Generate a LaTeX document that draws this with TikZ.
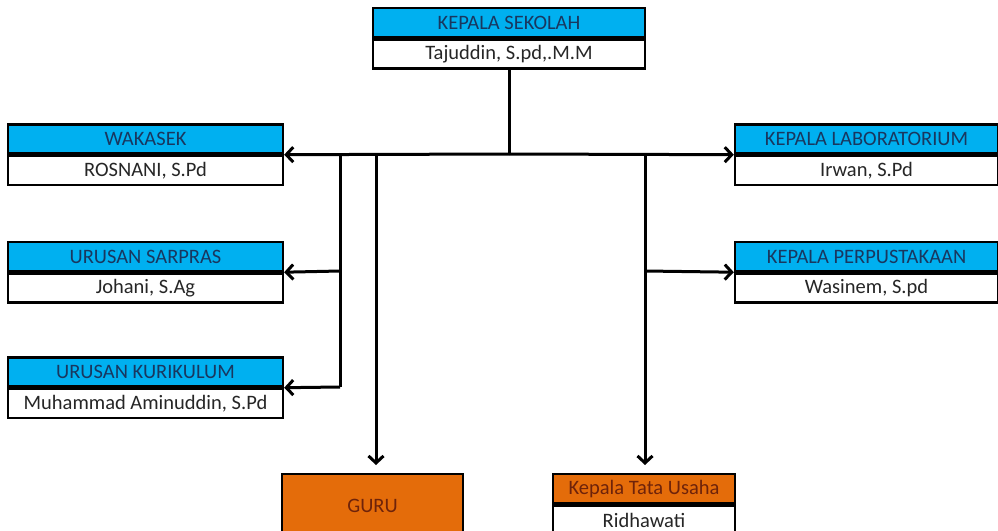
\documentclass[tikz,border=0pt]{standalone}
\usepackage{fontspec}
\setmainfont{Carlito}
\usetikzlibrary{arrows.meta}
\definecolor{biru}{RGB}{0,176,240}
\definecolor{oranye}{RGB}{228,108,10}
\definecolor{tinta}{RGB}{25,55,95}
\definecolor{coklat}{RGB}{110,35,10}

\begin{document}
\begin{tikzpicture}[x=1pt, y=-1pt,
    judul/.style={draw, line width=2.4pt, fill=biru, text=tinta, inner sep=0pt,
      minimum height=29pt, font=\fontsize{20.5}{22}\selectfont},
    nama/.style={draw, line width=2.4pt, fill=white, text=black!85, inner sep=0pt,
      minimum height=29pt, font=\fontsize{20.5}{22}\selectfont},
    panah/.style={line width=3pt, -{Straight Barb[length=7pt, width=15pt, line width=3pt]}},
    garis/.style={line width=3pt}]
  \useasboundingbox (0, 0) rectangle (998, 530);
  \clip (0, 0) rectangle (998, 530);
  \fill[white] (0, 0) rectangle (998, 530);

  % kepala sekolah
  \node[judul, minimum width=272pt] (kepsek) at (509, 22.5) {KEPALA SEKOLAH};
  \node[nama, minimum width=272pt, anchor=north] (kepsekNama) at (kepsek.south) {Tajuddin, S.pd,.M.M};

  % kiri
  \node[judul, minimum width=275pt] (wakasek) at (145.5, 139) {WAKASEK};
  \node[nama, minimum width=275pt, anchor=north] (wakasekNama) at (wakasek.south) {ROSNANI, S.Pd};
  \node[judul, minimum width=275pt] (sarpras) at (145.5, 256.5) {URUSAN SARPRAS};
  \node[nama, minimum width=275pt, anchor=north] (sarprasNama) at (sarpras.south) {Johani, S.Ag};
  \node[judul, minimum width=275pt] (kurikulum) at (145.5, 372) {URUSAN KURIKULUM};
  \node[nama, minimum width=275pt, anchor=north] (kurikulumNama) at (kurikulum.south) {Muhammad Aminuddin, S.Pd};

  % kanan
  \node[judul, minimum width=263pt] (lab) at (866.5, 139) {KEPALA LABORATORIUM};
  \node[nama, minimum width=263pt, anchor=north] (labNama) at (lab.south) {Irwan, S.Pd};
  \node[judul, minimum width=263pt] (perpus) at (866.5, 256.5) {KEPALA PERPUSTAKAAN};
  \node[nama, minimum width=263pt, anchor=north] (perpusNama) at (perpus.south) {Wasinem, S.pd};

  % bawah
  \node[judul, fill=oranye, text=coklat, minimum width=181pt,
    minimum height=64pt, anchor=north] (guru) at (372.5, 473) {GURU};
  \node[judul, fill=oranye, text=coklat, minimum width=182pt, anchor=north] (tu) at (644, 473) {Kepala Tata Usaha};
  \node[nama, minimum width=182pt, anchor=north] (tuNama) at (tu.south) {Ridhawati};

  % garis
  \coordinate (pusat) at (509, 154);
  \coordinate (kiriA) at (340, 154);
  \coordinate (kiriB) at (376, 154);
  \coordinate (kananA) at (645, 154);
  \draw[garis] (kepsekNama.south) -- (pusat);
  \draw[panah] (pusat) -- (wakasekNama.north east);
  \draw[panah] (pusat) -- (labNama.north west);
  \draw[garis] (kiriA) -- (340, 387);
  \draw[panah] (340, 271) -- (sarprasNama.north east);
  \draw[panah] (340, 387) -- (kurikulumNama.north east);
  \draw[panah, shorten >=8pt] (kiriB) -- (kiriB |- guru.north);
  \draw[garis] (kananA) -- (645, 271);
  \draw[panah] (645, 271) -- (perpusNama.north west);
  \draw[panah, shorten >=8pt] (kananA) -- (kananA |- tu.north);
\end{tikzpicture}
\end{document}
